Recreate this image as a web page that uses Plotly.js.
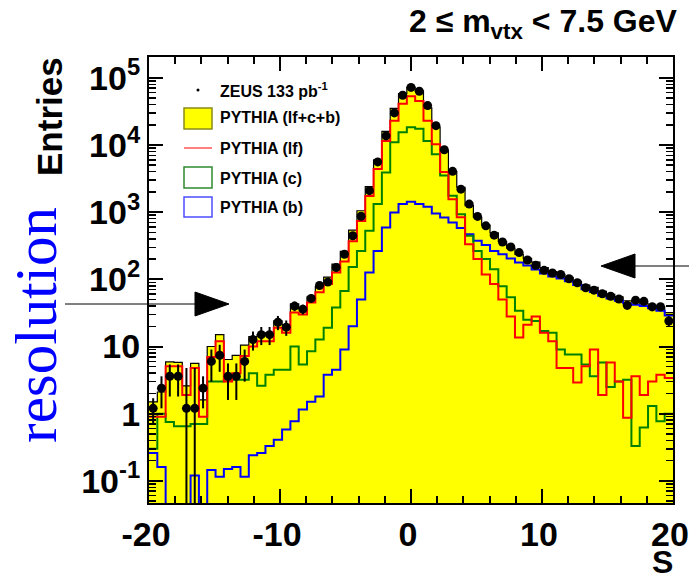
<!DOCTYPE html>
<html><head><meta charset="utf-8">
<script src="https://cdn.plot.ly/plotly-3.0.1.min.js"></script>
<style>html,body{margin:0;padding:0;background:#fff;}#chart{width:689px;height:581px;}</style>
</head><body><div id="chart"></div>
<script>
// ---- data (63 bins from -20 to 20) ----
const xMin = -20, xMax = 20, nBins = 63;
const zeusData = [1.2, 2.4, 3.6, 3.6, 1.2, 1.2, 2.4, 6, 7.4, 3.6, 3.6, 6, 12.7, 15, 15, 23,
  19.4, 40, 36, 52, 81, 91, 150, 236, 445, 870, 2090, 5600, 13700, 30000, 55000, 72000,
  63000, 38600, 19400, 8500, 4050, 2200, 1320, 865, 625, 455, 360, 303, 250, 194, 162, 136, 124,
  118, 102, 89, 75, 69, 61, 56, 51, 41, 49, 47, 39, 39, 24];
const zeusErr = [0.5, 1.2, 1.8, 1.8, 3.6, 3.6, 1.2, 3.0, 3.2, 2.0, 2.0, 3.0, 4.0, 4.5, 4.5, 5.5,
  5, 6.5, 6, 7, 8, 8.5, 10, 13, 18, 25, 38, 62, 95, 140, 190, 220,
  205, 160, 115, 75, 52, 38, 30, 24, 21, 18, 16, 15, 14, 12, 11, 10, 9.5,
  9, 8.5, 8, 7.5, 7, 6.8, 6.5, 6.2, 5.6, 6, 6, 5.5, 5.5, 4.5];
const pythiaTotal = [1.5, 2.1, 5.9, 5.8, 2.6, 5.6, 1.6, 10, 15, 6.4, 7.4, 10.5, 14, 15, 16, 24,
  21, 43, 37, 55, 78, 108, 168, 261, 540, 1050, 2400, 6000, 16000, 35000, 58000, 73000,
  64000, 35700, 18500, 8300, 4000, 2350, 1250, 840, 640, 490, 366, 290, 235, 205, 180, 150, 130,
  119, 107, 93, 82, 76, 66, 60, 55, 48, 47, 44, 41, 39, 32];
const pythiaLF = [0.9, 0.9, 5.1, 5.1, 1.9, 4.8, 0.9, 7, 12, 3.0, 4, 7.2, 10, 12, 12, 19,
  16, 32, 30, 45, 64, 85, 126, 185, 370, 740, 1740, 4400, 11500, 23000, 41000, 53000,
  45000, 23000, 10300, 3950, 1560, 840, 333, 200, 118, 85, 50, 28, 13.6, 21, 28, 16, 12,
  4.8, 4.8, 2.9, 5.1, 9, 1.9, 5.8, 3.0, 0.87, 3.6, 1.9, 3.0, 3.8, 3.4];
const pythiaC = [0.3, 1.0, 0.75, 0.65, 0.65, 0.7, 0.7, 3.0, 3.0, 3.2, 3.2, 3.2, 4.0, 2.6, 3.8, 4.5,
  4.5, 10, 5.4, 8.5, 12.7, 19, 38, 67, 152, 265, 530, 1320, 3900, 11000, 15500, 18300,
  17400, 11500, 7300, 3500, 1750, 930, 445, 265, 200, 141, 79, 54, 34, 25, 24, 17, 16,
  9, 7.6, 7.6, 5.4, 3.6, 5.8, 2.5, 3.0, 3.2, 0.33, 0.62, 1.3, 0.77, 1.0];
const pythiaB = [0.26, 0.16, 0, 0, 0, 0.12, 0, 0.145, 0.115, 0.15, 0.16, 0.115, 0.24, 0.26, 0.33, 0.41,
  0.58, 0.77, 1.15, 1.5, 1.8, 3.8, 4.5, 9, 20, 50, 126, 265, 590, 990, 1320, 1430,
  1320, 1200, 955, 830, 700, 580, 470, 375, 325, 265, 237, 205, 178, 160, 140, 122, 110,
  103, 94, 82, 71, 65, 57, 52, 48, 44, 42, 40, 37, 34, 29];
const xTickVals = [-20, -10, 0, 10, 20];
const xTickText = ['-20', '-10', '0', '10', '20'];
const yTickVals = [0.1, 1, 10, 100, 1000, 10000, 100000];
const yTickText = ['10<sup>-1</sup>', '1', '10', '10<sup>2</sup>', '10<sup>3</sup>', '10<sup>4</sup>', '10<sup>5</sup>'];
const legendLabels = ['ZEUS 133 pb<sup>-1</sup>', 'PYTHIA (lf+c+b)', 'PYTHIA (lf)', 'PYTHIA (c)', 'PYTHIA (b)'];

// ---- histogram helpers ----
const binW = (xMax - xMin) / nBins;
const edges = Array.from({length: nBins + 1}, (_, i) => xMin + i * binW);
const centers = Array.from({length: nBins}, (_, i) => xMin + (i + 0.5) * binW);
const LOG_FLOOR = 1e-4; // empty bins drop below the axis (clipped at frame)
function stepY(vals) {
  const v = vals.map(d => d > 0 ? d : LOG_FLOOR);
  return v.concat([v[v.length - 1]]);
}
function stepTrace(vals, color, width, fill) {
  const t = {x: edges, y: stepY(vals), type: 'scatter', mode: 'lines',
    line: {shape: 'hv', color: color, width: width}, hoverinfo: 'skip', showlegend: false};
  if (fill) { t.fill = 'tozeroy'; t.fillcolor = fill; }
  return t;
}

const traces = [
  stepTrace(pythiaTotal, '#000000', 1.2, '#ffff00'),
  stepTrace(pythiaB, '#0000ff', 2, null),
  stepTrace(pythiaC, '#008000', 2, null),
  stepTrace(pythiaLF, '#ff0000', 2, null),
  {x: centers, y: zeusData, type: 'scatter', mode: 'markers',
   marker: {color: '#000', size: 9},
   error_y: {type: 'data', array: zeusErr, visible: true, color: '#000', thickness: 2, width: 0},
   hoverinfo: 'skip', showlegend: false}
];

// ---- pixel -> paper conversion for decorations ----
const PL = 149, PR = 673, PT = 57, PB = 503;
const px = x => (x - PL) / (PR - PL);
const py = y => (PB - y) / (PB - PT);

const FONT = 'Liberation Sans, Arial, Helvetica, sans-serif';
const shapes = [
  // arrows
  {type: 'line', xref: 'paper', yref: 'paper', x0: px(65), x1: px(197), y0: py(304), y1: py(304), line: {color: '#000', width: 1}},
  {type: 'path', xref: 'paper', yref: 'paper', path: `M${px(195)},${py(292)} L${px(195)},${py(316)} L${px(229)},${py(304)} Z`, fillcolor: '#000', line: {color: '#000', width: 1}},
  {type: 'line', xref: 'paper', yref: 'paper', x0: px(633), x1: px(689), y0: py(266), y1: py(266), line: {color: '#000', width: 1}},
  {type: 'path', xref: 'paper', yref: 'paper', path: `M${px(635)},${py(254)} L${px(635)},${py(278)} L${px(601)},${py(266)} Z`, fillcolor: '#000', line: {color: '#000', width: 1}},
  // legend symbols
  {type: 'circle', xref: 'paper', yref: 'paper', x0: px(196.5), x1: px(199.5), y0: py(88.5), y1: py(91.5), fillcolor: '#000', line: {width: 0}},
  {type: 'rect', xref: 'paper', yref: 'paper', x0: px(184), x1: px(212), y0: py(108), y1: py(129), fillcolor: '#ffff00', line: {color: '#8a8a1a', width: 1.5}},
  {type: 'line', xref: 'paper', yref: 'paper', x0: px(184), x1: px(212), y0: py(148), y1: py(148), line: {color: '#ff0000', width: 1}},
  {type: 'rect', xref: 'paper', yref: 'paper', x0: px(184), x1: px(212), y0: py(167), y1: py(188), fillcolor: '#ffffff', line: {color: '#2e8b2e', width: 1.5}},
  {type: 'rect', xref: 'paper', yref: 'paper', x0: px(184), x1: px(212), y0: py(197), y1: py(217), fillcolor: '#ffffff', line: {color: '#4d4dff', width: 1.5}}
];
const legendY = [90, 118, 148, 178, 207];
const annotations = legendLabels.map((t, i) => ({
  text: t, xref: 'paper', yref: 'paper', x: px(218), y: py(legendY[i]), xanchor: 'left', yanchor: 'middle',
  showarrow: false, font: {family: FONT, size: 16, weight: 'bold', color: '#000'}
}));
annotations.push(
  {text: '2 ≤ m<sub>vtx</sub> &lt; 7.5 GeV', xref: 'paper', yref: 'paper', x: px(680), y: py(24), xanchor: 'right', yanchor: 'middle',
   showarrow: false, font: {family: FONT, size: 32, weight: 'bold', color: '#000'}},
  {text: 'Entries', xref: 'paper', yref: 'paper', x: px(49), y: py(117), xanchor: 'center', yanchor: 'middle', textangle: -90,
   showarrow: false, font: {family: FONT, size: 35, weight: 'bold', color: '#000'}},
  {text: 'S', xref: 'paper', yref: 'paper', x: px(675), y: py(582), xanchor: 'right', yanchor: 'bottom',
   showarrow: false, font: {family: FONT, size: 32, weight: 'bold', color: '#000'}},
  {text: 'resolution', xref: 'paper', yref: 'paper', x: px(36), y: py(325), xanchor: 'center', yanchor: 'middle', textangle: -90,
   showarrow: false, font: {family: 'Liberation Serif, Times New Roman, serif', size: 59, color: '#0000ff'}}
);

const layout = {
  width: 689, height: 581,
  margin: {l: PL, r: 689 - PR, t: PT, b: 581 - PB, pad: 0},
  paper_bgcolor: '#fff', plot_bgcolor: '#fff',
  showlegend: false,
  xaxis: {
    range: [xMin, xMax], tickmode: 'array', tickvals: xTickVals, ticktext: xTickText,
    ticks: 'inside', ticklen: 14, tickwidth: 2, tickcolor: '#000', layer: 'above traces',
    minor: {ticks: 'inside', dtick: 2, ticklen: 7, tickwidth: 2, tickcolor: '#000', showgrid: false},
    showline: true, linecolor: '#000', linewidth: 2, mirror: 'allticks',
    showgrid: false, zeroline: false, ticklabeloverflow: 'allow', ticklabelshift: -3,
    tickfont: {family: FONT, size: 34, weight: 'bold', color: '#000'}
  },
  yaxis: {
    type: 'log', range: [-1.33, 5.31], tickmode: 'array', tickvals: yTickVals, ticktext: yTickText,
    ticks: 'inside', ticklen: 14, tickwidth: 2, tickcolor: '#000', layer: 'above traces',
    minor: {ticks: 'inside', dtick: 'D1', ticklen: 7, tickwidth: 1.5, tickcolor: '#000', showgrid: false},
    showline: true, linecolor: '#000', linewidth: 2, mirror: 'allticks',
    showgrid: false, zeroline: false, ticklabeloverflow: 'allow',
    tickfont: {family: FONT, size: 34, weight: 'bold', color: '#000'}
  },
  shapes: shapes,
  annotations: annotations
};

Plotly.newPlot('chart', traces, layout, {staticPlot: true, displayModeBar: false});
</script>
</body></html>
